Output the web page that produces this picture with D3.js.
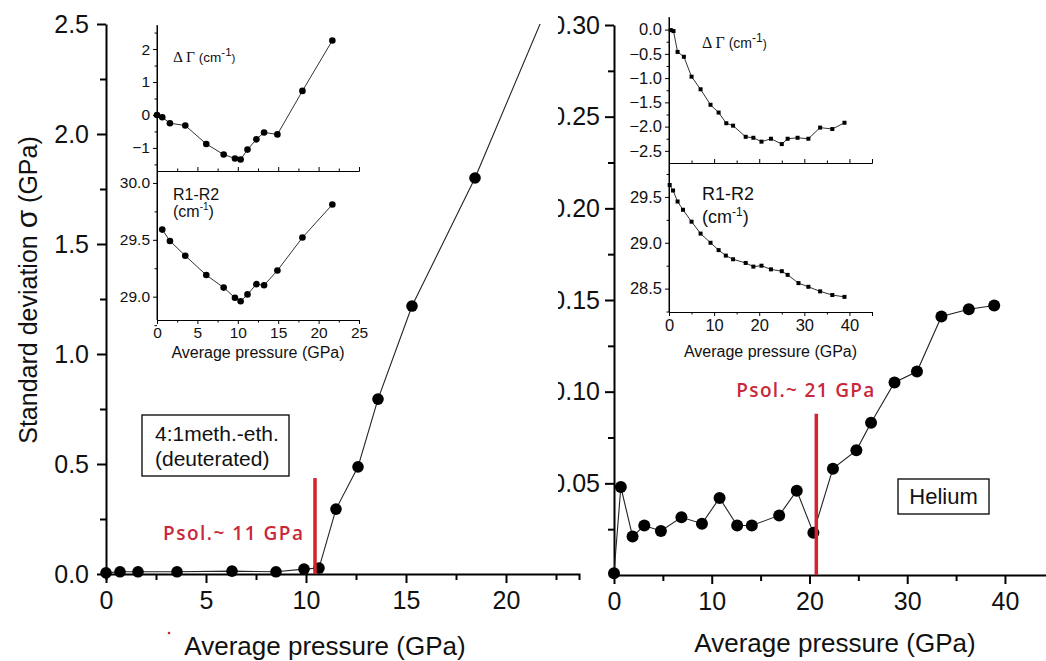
<!DOCTYPE html>
<html><head><meta charset="utf-8">
<script src="https://cdn.jsdelivr.net/npm/d3@7"></script>
<style>body{margin:0;background:#fff}svg{display:block}</style>
</head><body><svg id="c" width="1046" height="661"></svg>
<script>
// ---------- DATA ----------
// Left main panel: 4:1 methanol-ethanol (deuterated)
const leftP = [0, 0.7, 1.6, 3.55, 6.3, 8.5, 9.9, 10.65, 11.5, 12.6, 13.6, 15.3, 18.45, 22.4];
const leftSigma = [0.005, 0.01, 0.01, 0.01, 0.013, 0.01, 0.022, 0.027, 0.295, 0.487, 0.795, 1.218, 1.8, 2.65];
// Right main panel: Helium
const rightP = [0, 0.7, 1.9, 3.1, 4.8, 6.9, 9.0, 10.8, 12.6, 14.1, 16.9, 18.7, 20.4, 22.4, 24.8, 26.3, 28.7, 31.0, 33.5, 36.3, 38.9];
const rightSigma = [0.001, 0.048, 0.021, 0.027, 0.024, 0.0315, 0.028, 0.042, 0.027, 0.027, 0.0325, 0.046, 0.023, 0.058, 0.068, 0.083, 0.105, 0.111, 0.141, 0.145, 0.147];
// Left inset
const insLGammaP = [0, 0.65, 1.6, 3.5, 6.1, 8.25, 9.65, 10.35, 11.2, 12.3, 13.25, 14.9, 18.0, 21.7];
const insLGamma = [0, -0.07, -0.25, -0.32, -0.88, -1.2, -1.32, -1.35, -1.05, -0.74, -0.53, -0.59, 0.73, 2.26];
const insLRP = [0.65, 1.6, 3.5, 6.1, 8.25, 9.65, 10.35, 11.2, 12.3, 13.25, 14.9, 18.0, 21.7];
const insLR = [29.59, 29.49, 29.36, 29.19, 29.08, 28.99, 28.96, 29.02, 29.11, 29.10, 29.23, 29.52, 29.81];
// Right inset
const insRGammaP = [0.4, 1.0, 1.9, 3.3, 5.0, 7.0, 9.2, 11.0, 12.7, 14.2, 17.0, 18.7, 20.5, 22.6, 25.0, 26.3, 28.5, 30.9, 33.5, 36.2, 38.9];
const insRGamma = [-0.01, -0.03, -0.46, -0.56, -0.97, -1.23, -1.55, -1.71, -1.93, -1.98, -2.21, -2.23, -2.31, -2.25, -2.36, -2.25, -2.23, -2.25, -2.02, -2.05, -1.92];
const insRRP = [0.15, 0.9, 1.9, 3.1, 5.0, 7.0, 9.2, 11.0, 12.6, 14.2, 17.0, 18.7, 20.5, 22.6, 25.0, 26.3, 28.7, 30.9, 33.5, 36.2, 38.9];
const insRR = [29.63, 29.57, 29.45, 29.36, 29.23, 29.10, 29.00, 28.92, 28.86, 28.82, 28.78, 28.74, 28.75, 28.71, 28.69, 28.65, 28.56, 28.52, 28.47, 28.43, 28.41];
// Solidification markers
const psolP = [10.45, 20.7];
const psolTop = [0.436, 0.088];
const psolLabels = ["Psol.~ 11 GPa", "Psol.~ 21 GPa"];
// Tick values
const leftXMajor = [0, 5, 10, 15, 20];
const leftXMinor = [2.5, 7.5, 12.5, 17.5, 22.5];
const leftYMajor = [0, 0.5, 1.0, 1.5, 2.0, 2.5];
const leftYMinor = [0.25, 0.75, 1.25, 1.75, 2.25];
const rightXMajor = [0, 10, 20, 30, 40];
const rightXMinor = [5, 15, 25, 35];
const rightYMajor = [0.05, 0.10, 0.15, 0.20, 0.25, 0.30];
const rightYMinor = [0.025, 0.075, 0.125, 0.175, 0.225, 0.275];
const insLXMajor = [0, 5, 10, 15, 20, 25];
const insLXMinor = [2.5, 7.5, 12.5, 17.5, 22.5];
const insLGYMajor = [-1, 0, 1, 2];
const insLGYMinor = [-1.5, -0.5, 0.5, 1.5, 2.5];
const insLRYMajor = [29.0, 29.5, 30.0];
const insLRYMinor = [28.75, 29.25, 29.75];
const insRXMajor = [0, 10, 20, 30, 40];
const insRXMinor = [5, 15, 25, 35, 45];
const insRGYMajor = [0.0, -0.5, -1.0, -1.5, -2.0, -2.5];
const insRGYMinor = [-0.25, -0.75, -1.25, -1.75, -2.25];
const insRRYMajor = [28.5, 29.0, 29.5];
const insRRYMinor = [28.25, 28.75, 29.25, 29.75];

// ---------- DRAW ----------
const svg = d3.select('#c');
const FONT = '"Liberation Sans", Arial, sans-serif';
const RED = '#d2232f', RED_TXT = '#c8283a';

function axis(parent, orient, scale, at, o) {
  const mk = {left: d3.axisLeft, bottom: d3.axisBottom, top: d3.axisTop}[orient];
  const tr = orient === 'left' ? `translate(${at},0)` : `translate(0,${at})`;
  const gMin = parent.append('g').attr('transform', tr)
    .call(mk(scale).tickValues(o.minor || []).tickSize(o.minLen).tickSizeOuter(o.outer || 0).tickFormat(''));
  const gMaj = parent.append('g').attr('transform', tr)
    .call(mk(scale).tickValues(o.major || []).tickSize(o.majLen).tickSizeOuter(0).tickPadding(o.pad || 3)
      .tickFormat(o.fmt || (() => '')));
  [gMin, gMaj].forEach(g => {
    g.selectAll('path,line').attr('stroke', '#000').attr('stroke-width', o.sw);
    g.selectAll('text').attr('font-family', FONT).attr('font-size', o.fs).attr('fill', '#111');
  });
  gMaj.select('path').remove();
  return gMaj;
}

// ===== Right main panel (drawn first, left panel overlaps) =====
const xR = d3.scaleLinear().domain([0, 44.2]).range([614, 1046]);
const yR = d3.scaleLinear().domain([0, 0.30]).range([575, 25]);
svg.append('clipPath').attr('id', 'clipR').append('rect').attr('x', 558).attr('y', 0).attr('width', 500).attr('height', 661);
const gR = svg.append('g').attr('clip-path', 'url(#clipR)');
axis(gR, 'left', yR, 614, {major: rightYMajor, minor: rightYMinor, majLen: 9, minLen: 6, sw: 2, fs: 25, pad: 5, fmt: d3.format('.2f')});
axis(gR, 'bottom', xR, 575, {major: rightXMajor, minor: rightXMinor, majLen: 9, minLen: 6, sw: 2, fs: 25, pad: 8, fmt: d3.format('d')});
const rPts = rightP.map((p, i) => [p, rightSigma[i]]);
gR.append('path').datum(rPts).attr('fill', 'none').attr('stroke', '#222').attr('stroke-width', 1.1)
  .attr('d', d3.line().x(d => xR(d[0])).y(d => yR(d[1])));
gR.selectAll('circle.r').data(rPts).join('circle').attr('class', 'r')
  .attr('cx', d => xR(d[0])).attr('cy', d => yR(d[1])).attr('r', 6).attr('fill', '#000');
// Psol right
svg.append('line').attr('x1', xR(psolP[1])).attr('x2', xR(psolP[1])).attr('y1', yR(psolTop[1])).attr('y2', yR(0))
  .attr('stroke', RED).attr('stroke-width', 3.5);
svg.append('text').attr('x', xR(psolP[1]) - 11).attr('y', 397).attr('text-anchor', 'middle')
  .attr('font-family', '"Open Sans", sans-serif').attr('font-weight', 600).attr('font-size', 19)
  .attr('fill', RED_TXT).attr('textLength', 138).attr('lengthAdjust', 'spacing').text(psolLabels[1]);
// Helium box
svg.append('rect').attr('x', 898).attr('y', 479).attr('width', 91).attr('height', 35)
  .attr('fill', '#fff').attr('stroke', '#000').attr('stroke-width', 1.3);
svg.append('text').attr('x', 943.5).attr('y', 504).attr('text-anchor', 'middle').attr('font-family', FONT)
  .attr('font-size', 22).attr('fill', '#111').text('Helium');
svg.append('text').attr('x', 835).attr('y', 652).attr('text-anchor', 'middle').attr('font-family', FONT)
  .attr('font-size', 26).attr('fill', '#111').text('Average pressure (GPa)');

// ===== Left main panel =====
const xL = d3.scaleLinear().domain([0, 23.65]).range([106, 579]);
const yL = d3.scaleLinear().domain([0, 2.5]).range([574, 24]);
axis(svg, 'left', yL, 106, {major: leftYMajor, minor: leftYMinor, majLen: 9, minLen: 6, sw: 2, fs: 25, pad: 8, fmt: d3.format('.1f')});
axis(svg, 'bottom', xL, 574, {major: leftXMajor, minor: leftXMinor, majLen: 9, minLen: 6, outer: 6, sw: 2, fs: 25, pad: 8, fmt: d3.format('d')});
svg.append('clipPath').attr('id', 'clipL').append('rect').attr('x', 0).attr('y', 24).attr('width', 600).attr('height', 640);
const lPts = leftP.map((p, i) => [p, leftSigma[i]]);
const gL = svg.append('g').attr('clip-path', 'url(#clipL)');
gL.append('path').datum(lPts).attr('fill', 'none').attr('stroke', '#222').attr('stroke-width', 1.1)
  .attr('d', d3.line().x(d => xL(d[0])).y(d => yL(d[1])));
gL.selectAll('circle').data(lPts).join('circle')
  .attr('cx', d => xL(d[0])).attr('cy', d => yL(d[1])).attr('r', 5.8).attr('fill', '#000');
svg.append('line').attr('x1', xL(psolP[0])).attr('x2', xL(psolP[0])).attr('y1', yL(psolTop[0])).attr('y2', yL(0))
  .attr('stroke', RED).attr('stroke-width', 3.5);
svg.append('text').attr('x', xL(psolP[0]) - 12).attr('y', 540).attr('text-anchor', 'end')
  .attr('font-family', '"Open Sans", sans-serif').attr('font-weight', 600).attr('font-size', 19)
  .attr('fill', RED_TXT).attr('textLength', 140).attr('lengthAdjust', 'spacing').text(psolLabels[0]);
// sample box
svg.append('rect').attr('x', 142).attr('y', 415).attr('width', 147).attr('height', 61)
  .attr('fill', '#fff').attr('stroke', '#000').attr('stroke-width', 1.3);
svg.append('text').attr('x', 155).attr('y', 441).attr('font-family', FONT).attr('font-size', 21).attr('fill', '#111').text('4:1meth.-eth.');
svg.append('text').attr('x', 155).attr('y', 466).attr('font-family', FONT).attr('font-size', 21).attr('fill', '#111').text('(deuterated)');
// axis titles
svg.append('text').attr('x', 325).attr('y', 655).attr('text-anchor', 'middle').attr('font-family', FONT)
  .attr('font-size', 26).attr('fill', '#111').text('Average pressure (GPa)');
svg.append('circle').attr('cx', 169).attr('cy', 633).attr('r', 1.3).attr('fill', RED);
const yt = svg.append('text').attr('transform', 'translate(37,290) rotate(-90)').attr('text-anchor', 'middle')
  .attr('font-family', FONT).attr('font-size', 25).attr('fill', '#111');
yt.append('tspan').text('Standard deviation ');
yt.append('tspan').attr('font-size', 30).text('σ');
yt.append('tspan').text(' (GPa)');

// ===== Insets =====
function inset(cfg) {
  const g = svg.append('g');
  const x = d3.scaleLinear().domain(cfg.xDom).range(cfg.xRange);
  const yU = d3.scaleLinear().domain(cfg.uDom).range([cfg.mid, cfg.top]);
  const yD = d3.scaleLinear().domain(cfg.dDom).range([cfg.bot, cfg.mid]);
  g.append('line').attr('x1', cfg.xRange[0]).attr('x2', cfg.xRange[0]).attr('y1', cfg.top).attr('y2', cfg.bot)
    .attr('stroke', '#000').attr('stroke-width', 1);
  axis(g, 'left', yU, cfg.xRange[0], {major: cfg.uMaj, minor: cfg.uMin, majLen: 4, minLen: 2.5, sw: 1, fs: cfg.fs, pad: 3, fmt: cfg.uFmt});
  axis(g, 'left', yD, cfg.xRange[0], {major: cfg.dMaj, minor: cfg.dMin, majLen: 4, minLen: 2.5, sw: 1, fs: cfg.fs, pad: 3, fmt: cfg.dFmt});
  axis(g, 'top', x, cfg.mid, {major: cfg.xMaj, minor: cfg.xMin, majLen: 4, minLen: 2.5, outer: 4, sw: 1, fs: cfg.fs});
  axis(g, 'bottom', x, cfg.bot, {major: cfg.xMaj, minor: cfg.xMin, majLen: 4, minLen: 2.5, outer: 4, sw: 1, fs: cfg.fs, pad: 3, fmt: d3.format('d')});
  const up = cfg.uP.map((p, i) => [p, cfg.uV[i]]);
  const dn = cfg.dP.map((p, i) => [p, cfg.dV[i]]);
  [[up, yU], [dn, yD]].forEach(([pts, y]) => {
    g.append('path').datum(pts).attr('fill', 'none').attr('stroke', '#333').attr('stroke-width', 1)
      .attr('d', d3.line().x(d => x(d[0])).y(d => y(d[1])));
    if (cfg.square) {
      g.selectAll(null).data(pts).join('rect').attr('x', d => x(d[0]) - 2).attr('y', d => y(d[1]) - 2)
        .attr('width', 4).attr('height', 4).attr('fill', '#000');
    } else {
      g.selectAll(null).data(pts).join('circle').attr('cx', d => x(d[0])).attr('cy', d => y(d[1]))
        .attr('r', 3.3).attr('fill', '#000');
    }
  });
  const t1 = g.append('text').attr('x', cfg.lx).attr('y', cfg.l1y).attr('fill', '#111');
  t1.append('tspan').attr('font-family', '"Liberation Serif", "Times New Roman", serif').attr('font-size', cfg.gfs).text('Δ Γ ');
  t1.append('tspan').attr('font-family', FONT).attr('font-size', cfg.gfs - 2).text('(cm');
  t1.append('tspan').attr('font-family', FONT).attr('font-size', cfg.gfs - 4).attr('dy', -6).text('-1');
  t1.append('tspan').attr('font-family', FONT).attr('font-size', cfg.gfs - 4).attr('dy', 6).text(')');
  g.append('text').attr('x', cfg.lx).attr('y', cfg.l2y).attr('font-family', FONT).attr('font-size', cfg.rfs).attr('fill', '#111').text('R1-R2');
  const t3 = g.append('text').attr('x', cfg.lx).attr('y', cfg.l3y).attr('font-family', FONT).attr('font-size', cfg.rfs).attr('fill', '#111');
  t3.append('tspan').text('(cm');
  t3.append('tspan').attr('font-size', cfg.rfs - 6).attr('dy', -7).text('-1');
  t3.append('tspan').attr('dy', 7).text(')');
  g.append('text').attr('x', (cfg.xRange[0] + cfg.xRange[1]) / 2 + cfg.tdx).attr('y', cfg.ty).attr('text-anchor', 'middle')
    .attr('font-family', FONT).attr('font-size', cfg.tfs).attr('fill', '#111').text('Average pressure (GPa)');
}

inset({xDom: [0, 25], xRange: [157, 359], top: 25, mid: 171, bot: 320,
  uDom: [-1.70, 2.73], dDom: [28.795, 30.105],
  uMaj: insLGYMajor, uMin: insLGYMinor, dMaj: insLRYMajor, dMin: insLRYMinor,
  xMaj: insLXMajor, xMin: insLXMinor, uFmt: d3.format('d'), dFmt: d3.format('.1f'),
  uP: insLGammaP, uV: insLGamma, dP: insLRP, dV: insLR, square: false,
  fs: 15.5, lx: 173, l1y: 62, l2y: 200, l3y: 217, gfs: 15.5, rfs: 16, tfs: 16, ty: 358, tdx: 0});

inset({xDom: [0, 45], xRange: [669, 872], top: 17, mid: 163, bot: 312,
  uDom: [-2.75, 0.26], dDom: [28.245, 29.87],
  uMaj: insRGYMajor, uMin: insRGYMinor, dMaj: insRRYMajor, dMin: insRRYMinor,
  xMaj: insRXMajor, xMin: insRXMinor, uFmt: d3.format('.1f'), dFmt: d3.format('.1f'),
  uP: insRGammaP, uV: insRGamma, dP: insRRP, dV: insRR, square: true,
  fs: 16.5, lx: 702, l1y: 48, l2y: 200, l3y: 223, gfs: 16, rfs: 18, tfs: 16, ty: 357, tdx: 0});
</script></body></html>
